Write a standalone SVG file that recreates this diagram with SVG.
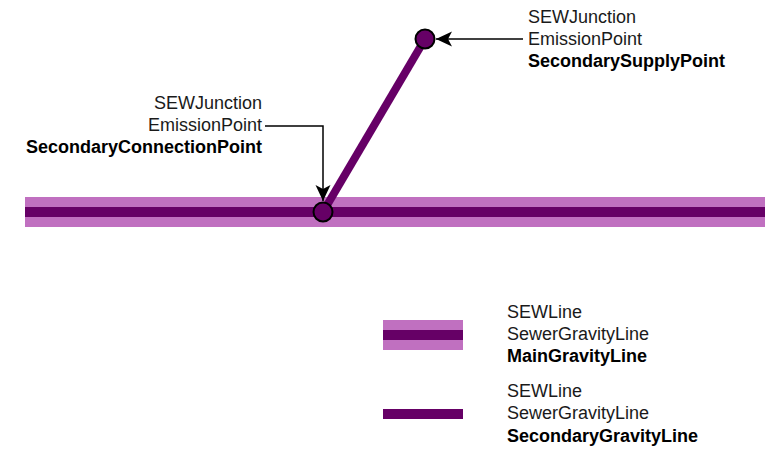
<svg xmlns="http://www.w3.org/2000/svg" width="772" height="456" viewBox="0 0 772 456">
  <style>
    .lbl { font-family: "Liberation Sans", Arial, sans-serif; font-size: 18px; fill: #1a1a1a; }
    .b { font-weight: bold; fill: #000; }
    .main-outer { fill: #C070C0; }
    .main-inner { fill: #660066; }
    .sec { stroke: #660066; stroke-width: 8; fill: none; }
    .junction { fill: #660066; stroke: #000; stroke-width: 2; }
    .conn { stroke: #000; stroke-width: 1.5; fill: none; marker-end: url(#arrow); }
  </style>
  <defs>
    <marker id="arrow" markerUnits="userSpaceOnUse" viewBox="0 0 16 16" markerWidth="16" markerHeight="16" refX="16" refY="8" orient="auto">
      <path d="M0,0.5 L16,8 L0,15.5 L4,8 Z" fill="#000"/>
    </marker>
  </defs>

  <!-- Main gravity line -->
  <g id="main-gravity-line">
    <rect class="main-outer" x="25" y="197" width="740" height="30"/>
    <rect class="main-inner" x="25" y="207" width="740" height="10"/>
  </g>

  <!-- Secondary gravity line -->
  <g id="secondary-gravity-line">
    <line class="sec" x1="323" y1="212" x2="425" y2="39"/>
  </g>

  <!-- Junctions -->
  <g id="connection-point">
    <circle class="junction" cx="323" cy="212" r="9.5"/>
  </g>
  <g id="supply-point">
    <circle class="junction" cx="425" cy="39" r="9.5"/>
  </g>

  <!-- Labels -->
  <g id="connection-point-label">
    <text class="lbl" x="262" y="109" text-anchor="end">SEWJunction</text>
    <text class="lbl" x="262" y="131" text-anchor="end">EmissionPoint</text>
    <text class="lbl b" x="262" y="153" text-anchor="end">SecondaryConnectionPoint</text>
  </g>
  <g id="supply-point-label">
    <text class="lbl" x="528" y="22.5">SEWJunction</text>
    <text class="lbl" x="528" y="44.5">EmissionPoint</text>
    <text class="lbl b" x="528" y="66.5">SecondarySupplyPoint</text>
  </g>

  <!-- Connectors -->
  <g id="connectors">
    <path class="conn" d="M265,126 H323 V201"/>
    <path class="conn" d="M523,39 H436"/>
  </g>

  <!-- Legend -->
  <g id="legend-main">
    <rect class="main-outer" x="383" y="320" width="80" height="30"/>
    <rect class="main-inner" x="383" y="330" width="80" height="10"/>
    <text class="lbl" x="507" y="317.5">SEWLine</text>
    <text class="lbl" x="507" y="339.5">SewerGravityLine</text>
    <text class="lbl b" x="507" y="361.5">MainGravityLine</text>
  </g>
  <g id="legend-secondary">
    <rect class="main-inner" x="383" y="409" width="80" height="10"/>
    <text class="lbl" x="507" y="396.5">SEWLine</text>
    <text class="lbl" x="507" y="419">SewerGravityLine</text>
    <text class="lbl b" x="507" y="441.5">SecondaryGravityLine</text>
  </g>
</svg>
